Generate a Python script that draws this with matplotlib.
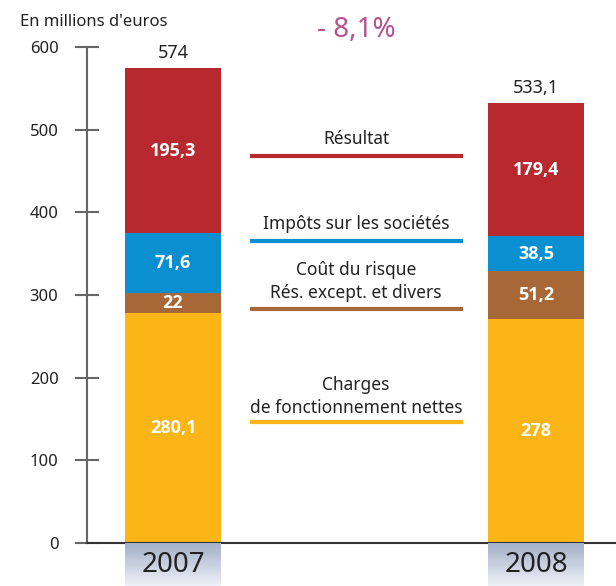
import numpy as np
import matplotlib
matplotlib.use("Agg")
import matplotlib.pyplot as plt

plt.rcParams['font.family'] = ['Noto Sans', 'DejaVu Sans']

# données (millions d'euros)
annees = ["2007", "2008"]
postes = ["Charges\nde fonctionnement nettes", "Coût du risque\nRés. except. et divers",
          "Impôts sur les sociétés", "Résultat"]
# hauteurs
charges = [278, 271]
risque = [24, 58]
impots = [73, 42]
resultat = [199, 161]
# étiquettes affichées
lab_charges = ["280,1", "278"]
lab_risque = ["22", "51,2"]
lab_impots = ["71,6", "38,5"]
lab_resultat = ["195,3", "179,4"]
totaux = ["574", "533,1"]
variation = "- 8,1%"

couleurs = ["#fbb517", "#a86737", "#0a8fd0", "#b8282f"]
texte = "#222222"

fig = plt.figure(figsize=(6.16, 5.86), dpi=100)
ax = fig.add_axes([87/616, 1-543/586, 1-87/616, (543-47)/586])

x = np.arange(len(annees))
largeur = 0.264
series = [charges, risque, impots, resultat]
etiquettes = [lab_charges, lab_risque, lab_impots, lab_resultat]
bas = np.zeros(len(annees))
for s, lab, c in zip(series, etiquettes, couleurs):
    s = np.array(s, dtype=float)
    ax.bar(x, s, largeur, bottom=bas, color=c, linewidth=0)
    for i in range(len(x)):
        ax.text(x[i], bas[i] + s[i]/2, lab[i], ha='center', va='center',
                color='white', fontsize=13, fontweight='bold',
                family=['Open Sans', 'DejaVu Sans'])
    bas = bas + s

for i in range(len(x)):
    ax.text(x[i], bas[i] + 8, totaux[i], ha='center', va='bottom',
            color=texte, fontsize=13)

# repères de légende au centre
lx0, lx1, lxc = 0.212, 0.799, 0.504
lignes_y = [146, 283, 365, 468]
textes_y = [[191, 163], [330, 302], [386], [488.6]]
for c, ly, p, ty in zip(couleurs, lignes_y, postes, textes_y):
    ax.plot([lx0, lx1], [ly, ly], color=c, linewidth=3, solid_capstyle='butt')
    for ligne, yy in zip(p.split("\n"), ty):
        ax.text(lxc, yy, ligne, ha='center', va='center', color=texte, fontsize=12.5)

ax.set_xlim(-0.237, 1.220)
ax.set_ylim(0, 600)
ax.set_yticks(range(0, 601, 100))
ax.set_xticks([])
for sp in ['top', 'right']:
    ax.spines[sp].set_visible(False)
ax.spines['left'].set_color('#666666')
ax.spines['left'].set_linewidth(1.5)
ax.spines['bottom'].set_color('#333333')
ax.spines['bottom'].set_linewidth(1.5)
ax.tick_params(axis='y', direction='inout', length=17, width=1.5, color='#666666',
               labelsize=12, labelcolor=texte, pad=12)

# cartouches des années en dégradé (foncé en haut, clair en bas)
fonce = np.array([0.64, 0.69, 0.78])
clair = np.array([0.93, 0.94, 0.97])
n = 40
for xc, an in zip([173, 536], annees):
    bx = fig.add_axes([(xc-48)/616, 0, 96/616, 43/586])
    bx.set_xlim(0, 1)
    bx.set_ylim(0, 1)
    for k in range(n):
        t = k / (n - 1)  # 0 en bas, 1 en haut
        bx.axhspan(k/n, (k+1)/n, color=clair + (fonce - clair) * t, linewidth=0)
    bx.axis('off')
    bx.text(0.5, 0.48, an, ha='center', va='center', color=texte, fontsize=20,
            transform=bx.transAxes)

fig.text(20/616, 1-22/586, "En millions d'euros", ha='left', va='center',
         color=texte, fontsize=12)
fig.text(356/616, 1-30/586, variation, ha='center', va='center',
         color='#b5508f', fontsize=20)

fig.savefig("out.png", dpi=100)
